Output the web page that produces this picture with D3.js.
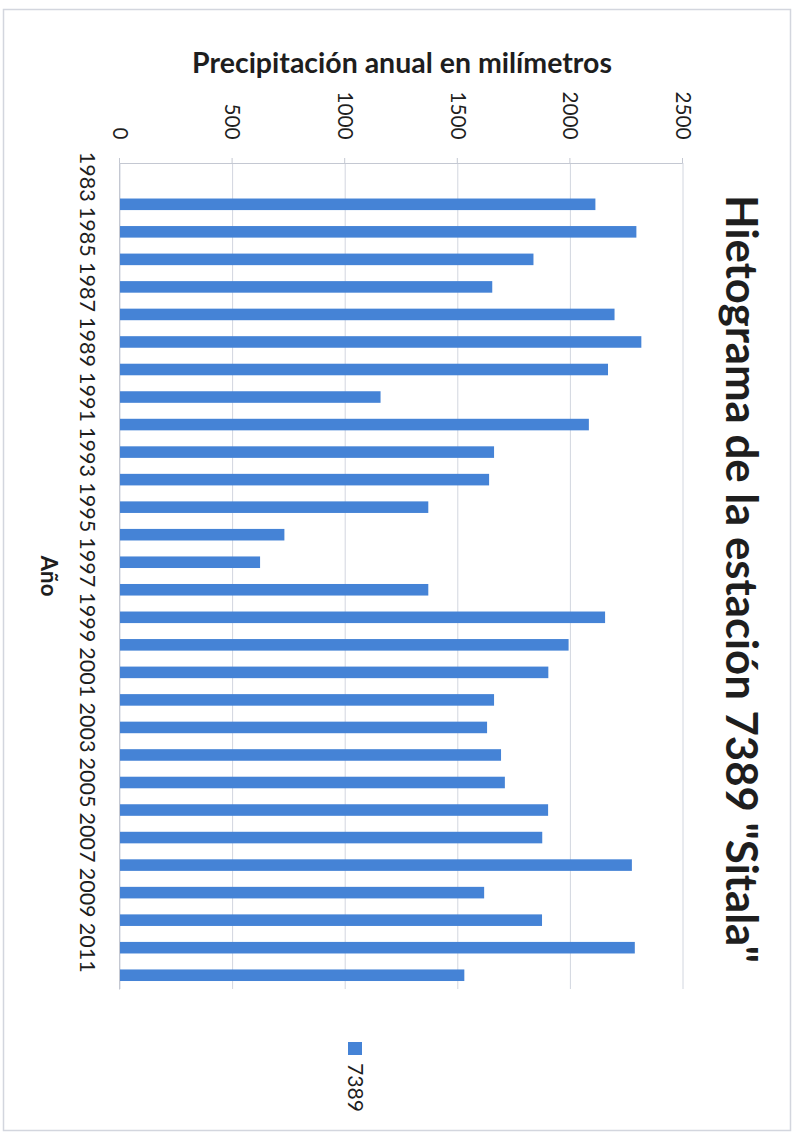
<!DOCTYPE html>
<html>
<head>
<meta charset="utf-8">
<script src="https://cdn.jsdelivr.net/npm/d3@7/dist/d3.min.js"></script>
<style>
  html, body { margin: 0; padding: 0; background: #ffffff; }
  svg { display: block; }
  text { font-family: Lato, "Open Sans", "Liberation Sans", sans-serif; fill: #1e1e1e; }
</style>
</head>
<body>
<svg id="chart" width="796" height="1138"></svg>
<script>
// ---- data ----
const years = [1983,1984,1985,1986,1987,1988,1989,1990,1991,1992,1993,1994,1995,1996,1997,
               1998,1999,2000,2001,2002,2003,2004,2005,2006,2007,2008,2009,2010,2011,2012];
const precipitation = [null,2111,2293,1836,1653,2196,2315,2167,1157,2082,1661,1639,1369,730,622,
                       1369,2154,1992,1902,1661,1630,1692,1709,1901,1875,2273,1617,1874,2286,1529];
const yearTickLabels = [1983,1985,1987,1989,1991,1993,1995,1997,1999,2001,2003,2005,2007,2009,2011];
const valueTicks = [0,500,1000,1500,2000,2500];
const seriesName = "7389";
const chartTitle = "Hietograma de la estación 7389 \"Sitala\"";
const valueAxisTitle = "Precipitación anual en milímetros";
const categoryAxisTitle = "Año";

// ---- layout (unrotated frame: 1138 wide x 796 tall, then rotated 90° clockwise) ----
const svg = d3.select("#chart");
const W = 796, H = 1138;

// outer border
svg.append("rect")
  .attr("x", 3.5).attr("y", 9.5).attr("width", 787).attr("height", 1121)
  .attr("fill", "none").attr("stroke", "#d3d6de").attr("stroke-width", 1.5);

const g = svg.append("g").attr("transform", `translate(${W},0) rotate(90)`);

const plotLeft = 163, plotRight = 989, plotTop = 113, plotBottom = 676;

const x = d3.scaleBand()
  .domain(years)
  .range([plotLeft, plotRight])
  .paddingInner(0.58)
  .paddingOuter(0.29);

const y = d3.scaleLinear().domain([0, 2500]).range([plotBottom, plotTop]);

const data = years.map((yr, i) => ({ year: yr, value: precipitation[i] }));

function fitText(sel, target) {
  const node = sel.node();
  const fs0 = parseFloat(sel.attr("font-size"));
  const len = node.getComputedTextLength();
  if (len > 0) sel.attr("font-size", (fs0 * target / len).toFixed(2));
  return sel;
}

// gridlines
g.append("g")
  .selectAll("line")
  .data(valueTicks)
  .join("line")
  .attr("x1", plotLeft).attr("x2", plotRight)
  .attr("y1", d => y(d)).attr("y2", d => y(d))
  .attr("stroke", "#d2d6df").attr("stroke-width", 1);

// value axis (left in unrotated frame)
const yAxis = g.append("g")
  .attr("transform", `translate(${plotLeft},0)`)
  .call(d3.axisLeft(y).tickValues(valueTicks).tickSize(5).tickPadding(18).tickFormat(d3.format("d")));
yAxis.select(".domain").attr("stroke", "#c4c8d2");
yAxis.selectAll(".tick line").attr("stroke", "#c4c8d2");
yAxis.selectAll(".tick text")
  .attr("font-size", 20)
  .attr("font-family", "Lato, sans-serif")
  .attr("fill", "#1e1e1e")
  .attr("x", -(plotLeft - 139.5) + 0);
yAxis.selectAll(".tick text").each(function(d) {
  const s = d3.select(this);
  const target = String(d).length * 12;
  fitText(s, target);
});

// category axis (bottom in unrotated frame)
const xAxis = g.append("g")
  .attr("transform", `translate(0,${plotBottom})`)
  .call(d3.axisBottom(x).tickValues(yearTickLabels).tickSize(0).tickPadding(0));
xAxis.select(".domain").attr("stroke", "#c4c8d2");
xAxis.selectAll(".tick text")
  .attr("font-size", 21)
  .attr("font-family", "Lato, sans-serif")
  .attr("fill", "#1e1e1e")
  .attr("y", 0).attr("dy", null)
  .attr("transform", "translate(0,40)")
  .each(function() { fitText(d3.select(this), 50); });

// bars
g.append("g")
  .selectAll("rect")
  .data(data.filter(d => d.value != null))
  .join("rect")
  .attr("x", d => x(d.year))
  .attr("width", x.bandwidth())
  .attr("y", d => y(d.value))
  .attr("height", d => y(0) - y(d.value))
  .attr("fill", "#4583d6");

// chart title
const title = g.append("text")
  .attr("x", 579).attr("y", 70)
  .attr("text-anchor", "middle")
  .attr("font-size", 36)
  .attr("font-weight", 700)
  .text(chartTitle);
fitText(title, 768);

// value axis title (rotated -90 in unrotated frame)
const vTitle = g.append("text")
  .attr("transform", `translate(73,394) rotate(-90)`)
  .attr("text-anchor", "middle")
  .attr("font-size", 24)
  .attr("font-weight", 700)
  .text(valueAxisTitle);
fitText(vTitle, 420);

// category axis title
const cTitle = g.append("text")
  .attr("x", 576).attr("y", 755)
  .attr("text-anchor", "middle")
  .attr("font-size", 20)
  .attr("font-weight", 700)
  .text(categoryAxisTitle);
fitText(cTitle, 41);

// legend
const legend = g.append("g").attr("transform", "translate(1042,441)");
legend.append("rect")
  .attr("x", 0).attr("y", -7).attr("width", 13).attr("height", 14)
  .attr("fill", "#4583d6");
const legText = legend.append("text")
  .attr("x", 21).attr("y", 0).attr("dy", "0.35em")
  .attr("font-size", 20)
  .text(seriesName);
fitText(legText, 49);
</script>
</body>
</html>
